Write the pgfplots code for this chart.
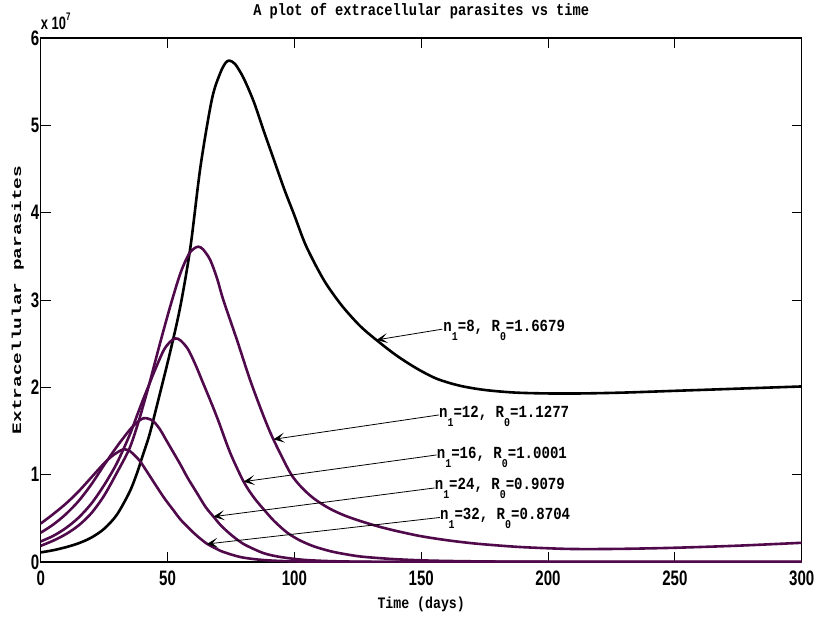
\documentclass[border=0pt]{standalone}
\usepackage{pgfplots}
\pgfplotsset{compat=1.18}
\usepackage{fontspec}
\usepackage{graphicx}
\usetikzlibrary{arrows.meta}
\setmainfont{Liberation Mono}
\newfontfamily\tickfont[FakeStretch=0.72]{Liberation Sans}
\newfontfamily\mono[FakeStretch=0.83]{Liberation Mono}
\definecolor{mpurple}{RGB}{80,10,75}
\newcommand{\sub}[1]{\raisebox{-9bp}{\fontsize{12}{12}\selectfont #1}}

\pgfplotstableread{
x y
0 0.11
5 0.135
10 0.17
15 0.215
20 0.28
25 0.38
30 0.54
35 0.80
38 1.02
40 1.20
43 1.47
47 1.93
51 2.40
55 2.92
59 3.60
63 4.53
67.5 5.30
70.8 5.60
73 5.72
74.5 5.74
76.7 5.70
80 5.54
84 5.27
88 4.93
92 4.60
96 4.27
100 3.97
104 3.66
108 3.42
112 3.21
116 3.04
120 2.89
126 2.70
132 2.55
140 2.37
148 2.22
156 2.10
165 2.02
175 1.97
187 1.94
200 1.93
213 1.93
230 1.94
250 1.96
275 1.985
300 2.01
}\nEight

\pgfplotstableread{
x y
0 0.185
5 0.245
10 0.32
15 0.42
20 0.56
25 0.76
30 1.02
35 1.30
38.5 1.60
40.5 1.80
43 2.06
47 2.50
51 2.92
55 3.30
58.3 3.52
60.5 3.59
62.2 3.61
64 3.58
66.8 3.46
69.5 3.25
72 3.00
77.4 2.54
82.6 2.08
88 1.66
91.8 1.40
98.4 1.02
103 0.85
108 0.72
114 0.61
120 0.53
127 0.46
134 0.40
141 0.35
150 0.295
160 0.25
170 0.215
180 0.19
190 0.17
205 0.152
215 0.148
230 0.151
250 0.163
275 0.187
300 0.22
}\nTwelve

\pgfplotstableread{
x y
0 0.235
5 0.30
10 0.39
15 0.51
20 0.67
25 0.88
30 1.13
35 1.45
38 1.68
40.5 1.87
43 2.05
44.5 2.16
48.4 2.42
51 2.52
53 2.56
55 2.54
58 2.44
61 2.26
64 2.05
67 1.84
70 1.62
74.7 1.25
80 0.92
84 0.74
88 0.60
92 0.47
97 0.34
102 0.25
107.6 0.18
114 0.125
120 0.09
127 0.06
140 0.032
155 0.015
180 0.005
220 0.001
300 0
}\nSixteen

\pgfplotstableread{
x y
0 0.335
5 0.43
10 0.55
15 0.70
20 0.89
25 1.11
30 1.32
35 1.51
38 1.60
40.5 1.646
42.5 1.64
44.5 1.61
47 1.52
49 1.42
52 1.27
55 1.12
58 0.96
61.6 0.79
65 0.63
68.1 0.52
71 0.42
74.7 0.32
78 0.245
81 0.19
88 0.10
95 0.055
105 0.022
120 0.006
150 0.001
300 0
}\nTwentyFour

\pgfplotstableread{
x y
0 0.44
5 0.55
10 0.67
15 0.81
20 0.97
25 1.13
28 1.21
30.5 1.26
32.6 1.29
34.5 1.28
36 1.25
39 1.16
42 1.03
46 0.85
49 0.72
52.4 0.59
55 0.49
59 0.37
62 0.29
65.5 0.21
69 0.155
72 0.115
79 0.055
88 0.022
100 0.007
120 0.001
150 0
300 0
}\nThirtyTwo

\begin{document}
\begin{tikzpicture}
\useasboundingbox (-40.7bp,-57bp) rectangle (776.3bp,562bp);
\begin{axis}[
  name=ax,
  at={(0,0)}, anchor=south west,
  scale only axis,
  width=761bp, height=524bp,
  xmin=0, xmax=300, ymin=0, ymax=6,
  xtick={0,50,100,150,200,250,300},
  xticklabels={0,50,100,150,200,250,300},
  ytick={0,1,2,3,4,5,6},
  yticklabels={0,1,2,3,4,5,6},
  xtick pos=both, ytick pos=both,
  xticklabel pos=lower, yticklabel pos=left,
  tick align=inside,
  major tick length=10bp,
  every tick/.style={black, line width=0.8bp},
  axis line style={line width=1.5bp},
  ticklabel style={font=\tickfont\bfseries\fontsize{21}{21}\selectfont},
  xticklabel style={yshift=-5bp},
  yticklabel style={xshift=2bp},
  title={A plot of extracellular parasites vs time},
  title style={font=\mono\bfseries\fontsize{16.5}{16.5}\selectfont, at={(0.5,1)}, anchor=base, yshift=16.5bp},
  xlabel={Time (days)},
  xlabel style={font=\mono\bfseries\fontsize{16}{16}\selectfont, at={(0.5,0)}, anchor=base, yshift=-46bp},
]
\addplot[black, line width=2.6bp, smooth] table {\nEight};
\addplot[mpurple, line width=2.6bp, smooth] table {\nTwelve};
\addplot[mpurple, line width=2.6bp, smooth] table {\nSixteen};
\addplot[mpurple, line width=2.6bp, smooth] table {\nTwentyFour};
\addplot[mpurple, line width=2.6bp, smooth] table {\nThirtyTwo};

\begin{scope}[font=\mono\bfseries\fontsize{17}{17}\selectfont]
\node[anchor=base west, inner sep=0] at (axis cs:158.7,2.635) {n\sub{1}=8, R\sub{0}=1.6679};
\node[anchor=base west, inner sep=0] at (axis cs:157,1.65) {n\sub{1}=12, R\sub{0}=1.1277};
\node[anchor=base west, inner sep=0] at (axis cs:156.1,1.19) {n\sub{1}=16, R\sub{0}=1.0001};
\node[anchor=base west, inner sep=0] at (axis cs:155.3,0.825) {n\sub{1}=24, R\sub{0}=0.9079};
\node[anchor=base west, inner sep=0] at (axis cs:157.4,0.481) {n\sub{1}=32, R\sub{0}=0.8704};
\end{scope}
\begin{scope}[line width=0.8bp, -{Stealth[length=11bp,width=10bp,inset=5.5bp]}]
\draw (axis cs:158.3,2.666) -- (axis cs:132.4,2.543);
\draw (axis cs:157,1.684) -- (axis cs:91.8,1.405);
\draw (axis cs:156.1,1.226) -- (axis cs:80,0.92);
\draw (axis cs:155.3,0.848) -- (axis cs:68.1,0.519);
\draw (axis cs:157.4,0.51) -- (axis cs:65.5,0.206);
\end{scope}
\end{axis}
\node[anchor=base west, inner sep=0, font=\tickfont\bfseries\fontsize{18}{18}\selectfont] at ([yshift=8bp]ax.north west) {x 10\raisebox{9bp}{\fontsize{11}{11}\selectfont 7}};
\node[rotate=90, anchor=base, inner sep=0, font=\bfseries\fontsize{13}{13}\selectfont] at ([xshift=-19.7bp]ax.west) {\scalebox{1.5}[1]{Extracellular parasites}};
\end{tikzpicture}
\end{document}
